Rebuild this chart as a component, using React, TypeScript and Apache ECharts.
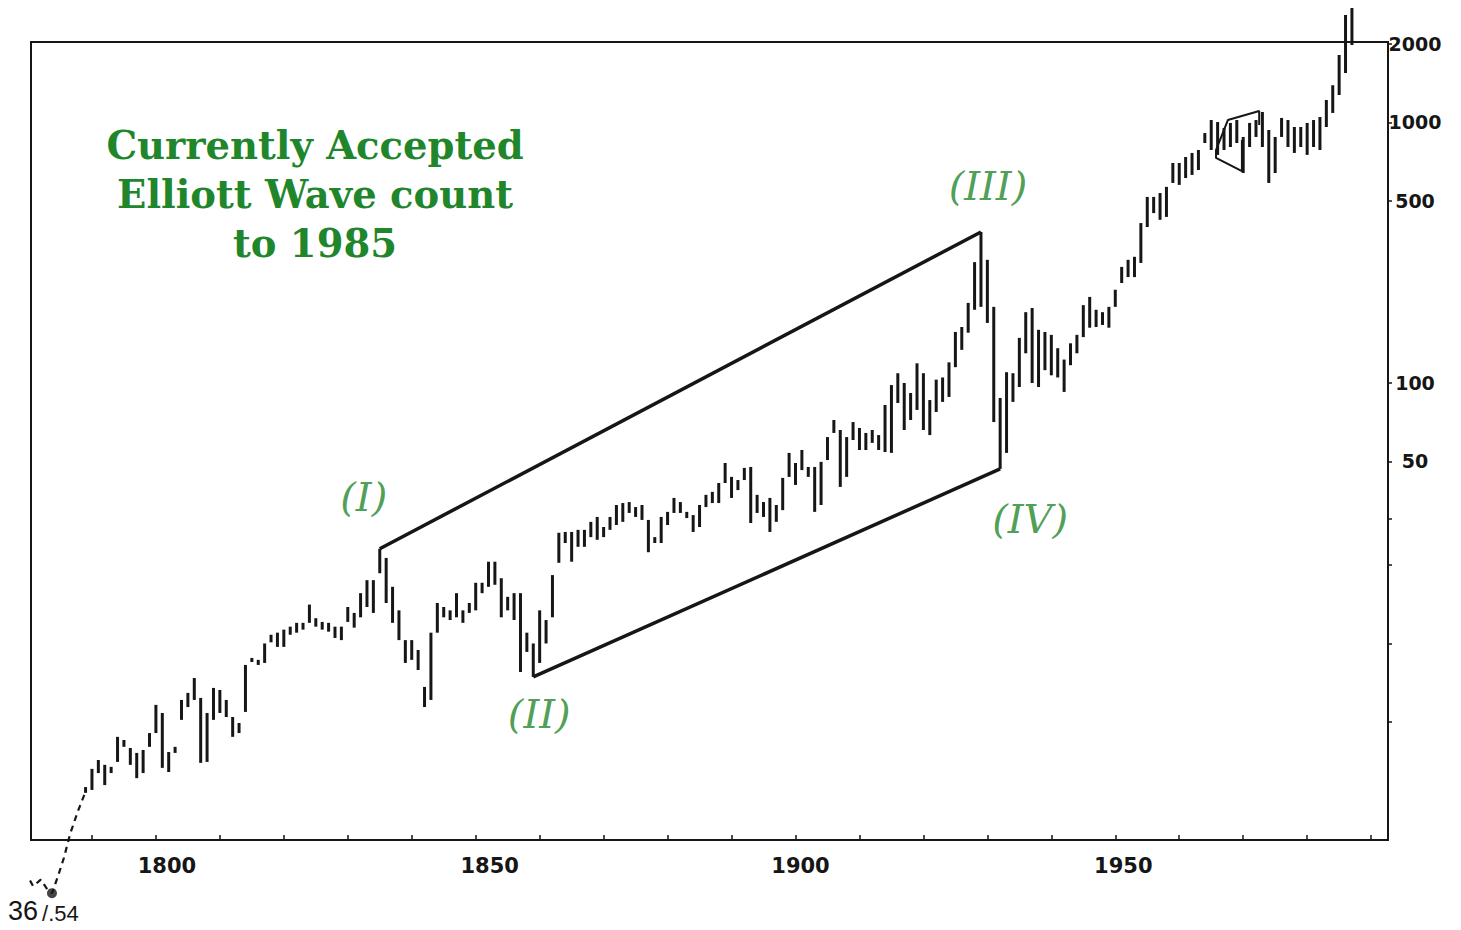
import React, { useEffect, useRef } from "react";
import * as echarts from "echarts";

// ---- data -------------------------------------------------------------
const FIRST_YEAR = 1789;
// yearly highs, 1789 .. 1987
const HIGHS = [
  2.81,
  3.3, 3.57, 3.42, 3.36, 4.38, 4.26, 3.97, 3.8, 3.9, 4.53,
  5.81, 5.41, 3.83, 4.01, 6.07, 6.46, 7.37, 6.18, 5.41, 6.75,
  6.63, 6.07, 5.22, 4.95, 8.27, 8.8, 8.65, 10.0, 10.8, 11.0,
  11.3, 11.6, 12.0, 12.0, 14.1, 12.5, 12.1, 12.0, 11.6, 11.6,
  13.8, 13.1, 15.6, 17.5, 17.5, 23.1, 21.3, 16.5, 13.4, 10.3,
  10.3, 9.44, 6.81, 11.0, 14.3, 13.8, 13.4, 15.6, 13.4, 14.3,
  17.1, 17.1, 20.6, 20.6, 17.8, 15.1, 15.6, 15.6, 11.0, 10.0,
  13.4, 12.3, 18.3, 26.6, 26.8, 26.8, 27.3, 27.3, 29.3, 30.6,
  28.0, 30.6, 34.0, 34.6, 34.9, 33.4, 34.0, 29.8, 25.6, 30.6,
  32.0, 36.2, 34.9, 32.0, 31.1, 34.0, 37.2, 38.2, 41.3, 49.3,
  43.6, 42.4, 47.2, 47.6, 37.2, 34.9, 36.2, 34.0, 43.2, 53.9,
  49.3, 55.3, 47.6, 47.6, 49.8, 62.0, 72.1, 66.0, 62.0, 70.8,
  67.2, 64.3, 66.0, 63.1, 82.3, 98.2, 109, 100, 91.5, 119,
  109, 86.0, 103, 105, 120, 157, 164, 203, 291, 380,
  297, 196, 87.6, 110, 109, 149, 187, 194, 160, 157,
  153, 136, 123, 142, 153, 199, 214, 191, 187, 196,
  228, 279, 297, 305, 411, 518, 518, 536, 566, 699,
  699, 737, 764, 784, 911, 1022, 1004, 953, 996, 1022,
  880, 996, 1022, 1097, 936, 880, 1041, 1022, 961, 961,
  996, 1022, 1050, 1220, 1390, 1816, 2586, 2752,
];
// yearly lows, 1789 .. 1987
const LOWS = [
  2.67,
  2.74, 3.18, 2.86, 3.18, 3.51, 4.01, 3.42, 3.04, 3.18, 4.01,
  4.53, 3.33, 3.21, 3.8, 5.09, 5.7, 6.07, 3.48, 3.51, 5.09,
  5.41, 5.22, 4.38, 4.53, 5.46, 8.49, 8.27, 8.42, 10.1, 9.7,
  9.7, 10.8, 11.0, 11.3, 12.0, 11.6, 11.3, 11.1, 10.5, 10.3,
  12.1, 11.5, 12.6, 13.8, 13.1, 18.6, 14.3, 12.0, 10.3, 8.42,
  8.65, 7.91, 5.7, 6.07, 11.0, 12.6, 12.3, 12.6, 12.0, 13.1,
  13.4, 15.6, 16.5, 16.8, 12.6, 13.4, 12.3, 7.77, 9.28, 7.44,
  8.42, 10.0, 12.6, 20.4, 24.3, 20.6, 23.5, 23.5, 25.6, 25.0,
  25.6, 27.3, 28.5, 29.3, 31.7, 30.6, 29.8, 22.4, 24.3, 24.3,
  28.5, 31.7, 31.7, 30.3, 26.8, 28.0, 33.4, 34.6, 34.6, 41.3,
  36.2, 38.8, 42.4, 29.0, 31.7, 30.6, 26.8, 29.3, 32.5, 43.6,
  40.6, 46.3, 43.6, 32.0, 34.0, 50.6, 64.3, 39.9, 43.6, 60.4,
  55.3, 55.3, 58.9, 55.3, 54.3, 53.9, 83.8, 66.0, 72.1, 78.8,
  66.0, 63.1, 77.4, 84.6, 88.4, 115, 134, 156, 191, 196,
  170, 70.8, 46.8, 53.9, 84.6, 96.5, 130, 100, 96.5, 112,
  107, 105, 92.4, 117, 130, 150, 163, 164, 167, 163,
  196, 242, 255, 255, 289, 397, 449, 423, 434, 586,
  576, 612, 629, 657, 834, 784, 751, 784, 805, 834,
  640, 805, 880, 805, 586, 640, 880, 805, 764, 805,
  751, 805, 784, 961, 1088, 1275, 1549, 1984,
];

const X_LABEL_YEARS = [1800, 1850, 1900, 1950];
const X_TICK_YEARS = [1790, 1800, 1810, 1820, 1830, 1840, 1850, 1860, 1870, 1880, 1890, 1900, 1910, 1920, 1930, 1940, 1950, 1960, 1970, 1980, 1990];
const Y_LABEL_VALUES = [50, 100, 500, 1000, 2000];
const Y_TICK_VALUES = [5, 10, 20, 30, 50, 100, 500, 1000, 2000];

// wave points: label, year, which end of the bar
const WAVE_LABELS = ["(I)", "(II)", "(III)", "(IV)"];
const WAVE_YEARS = [1835, 1859, 1929, 1932];
const WAVE_ENDS = ["high", "low", "high", "low"];

// dashed lead-in from the 1784 start (year, value)
const LEAD_IN_YEARS = [1779.5, 1780.8, 1782.0, 1783.1, 1783.75, 1784.7, 1785.6, 1786.6, 1787.8, 1789.0];
const LEAD_IN_VALUES = [1.34, 1.17, 1.24, 1.13, 1.10, 1.28, 1.5, 1.86, 2.27, 2.7];
const START_YEAR = 1783.75;
const START_VALUE = 1.1;

// small wedge drawn on the 1965-1972 top
const WEDGE_YEARS = [1972.5, 1972.5, 1967.6, 1965.75, 1965.75, 1969.8, 1969.8];
const WEDGE_VALUES = [978, 1107, 1022, 784, 731, 651, 857];

// ---- layout / helpers ----------------------------------------------------
const L = (v: number) => Math.log10(v);
const X_MIN = 1780.47;
const X_MAX = 1992.64;
const Y_MIN = 0.2455; // log10(1.76)
const Y_MAX = 3.309; // log10(2037)
const GREEN = "#1f862b";
const INK = "#161616";

const LABEL_SHIFT: Record<number, number> = { 1800: 22, 1850: 28, 1900: 10, 1950: 16 };

function buildOption(): any {
  const bars = HIGHS.map((h, i) => [FIRST_YEAR + i, L(h), L(LOWS[i])]);
  const valAt = (year: number, end: string) => {
    const i = year - FIRST_YEAR;
    return end === "high" ? HIGHS[i] : LOWS[i];
  };
  const wavePts = WAVE_YEARS.map((y, i) => [y, L(valAt(y, WAVE_ENDS[i]))]);
  const labelOffsets = [
    [-16, -52],
    [6, 37],
    [7, -46],
    [30, 50],
  ];

  const rich: any = {};
  X_LABEL_YEARS.forEach((y) => {
    rich["y" + y] = {
      fontFamily: "DejaVu Sans",
      fontWeight: "bold",
      fontSize: 21,
      color: INK,
      padding: [0, 0, 0, LABEL_SHIFT[y] || 0],
    };
  });

  return {
    animation: false,
    backgroundColor: "#ffffff",
    grid: {
      left: 31,
      right: 73,
      top: 42,
      bottom: 90,
      show: true,
      borderColor: INK,
      borderWidth: 2,
      backgroundColor: "transparent",
    },
    xAxis: {
      type: "value",
      min: X_MIN,
      max: X_MAX,
      axisLine: { show: false },
      splitLine: { show: false },
      axisTick: {
        show: true,
        inside: true,
        length: 5,
        customValues: X_TICK_YEARS,
        lineStyle: { color: INK, width: 1.5 },
      },
      axisLabel: {
        show: true,
        customValues: X_LABEL_YEARS,
        margin: 15,
        formatter: (v: number) => `{y${Math.round(v)}|${Math.round(v)}}`,
        rich,
      },
    },
    yAxis: {
      type: "value",
      position: "right",
      min: Y_MIN,
      max: Y_MAX,
      axisLine: { show: false },
      splitLine: { show: false },
      axisTick: {
        show: true,
        length: 4,
        customValues: Y_TICK_VALUES.map(L),
        lineStyle: { color: INK, width: 1.5 },
      },
      axisLabel: {
        show: true,
        customValues: Y_LABEL_VALUES.map(L),
        align: "center",
        margin: 27,
        fontFamily: "DejaVu Sans",
        fontWeight: "bold",
        fontSize: 19,
        color: INK,
        formatter: (v: number) => String(Math.round(Math.pow(10, v))),
      },
    },
    graphic: [
      {
        type: "text",
        x: 315,
        y: 121,
        style: {
          text: "Currently Accepted\nElliott Wave count\nto 1985",
          textAlign: "center",
          textVerticalAlign: "top",
          fontFamily: "DejaVu Serif",
          fontWeight: "bold",
          fontSize: 38.5,
          lineHeight: 49,
          fill: GREEN,
        },
      },
      {
        type: "text",
        x: 8,
        y: 897,
        style: {
          text: "{a|36}{b|/.54}",
          rich: {
            a: { fontFamily: "Liberation Sans", fontSize: 27, fill: INK, color: INK },
            b: { fontFamily: "Liberation Sans", fontSize: 22, fill: INK, color: INK, padding: [5, 0, 0, 4] },
          },
        },
      },
    ],
    series: [
      {
        type: "custom",
        clip: false,
        z: 2,
        data: bars,
        encode: { x: 0, y: [1, 2] },
        renderItem: (params: any, api: any) => {
          const x = api.value(0);
          const p1 = api.coord([x, api.value(1)]);
          const p2 = api.coord([x, api.value(2)]);
          const h = Math.max(p2[1] - p1[1], 3);
          return {
            type: "rect",
            shape: { x: p1[0] - 1.5, y: p1[1], width: 3, height: h },
            style: { fill: INK },
          };
        },
      },
      {
        type: "line",
        z: 3,
        clip: false,
        symbol: "none",
        data: [wavePts[0], wavePts[2]],
        lineStyle: { color: INK, width: 3.5 },
      },
      {
        type: "line",
        z: 3,
        clip: false,
        symbol: "none",
        data: [wavePts[1], wavePts[3]],
        lineStyle: { color: INK, width: 3.5 },
      },
      {
        type: "line",
        z: 3,
        clip: false,
        symbol: "none",
        data: WEDGE_YEARS.map((y, i) => [y, L(WEDGE_VALUES[i])]),
        lineStyle: { color: INK, width: 2 },
      },
      {
        type: "line",
        z: 3,
        clip: false,
        symbol: "none",
        data: LEAD_IN_YEARS.map((y, i) => [y, L(LEAD_IN_VALUES[i])]),
        lineStyle: { color: INK, width: 2.2, type: [6, 5] },
      },
      {
        type: "scatter",
        z: 4,
        clip: false,
        symbolSize: 10,
        itemStyle: { color: INK },
        data: [[START_YEAR, L(START_VALUE)]],
      },
      {
        type: "scatter",
        z: 5,
        clip: false,
        symbolSize: 0,
        data: wavePts.map((p, i) => ({
          value: p,
          label: {
            show: true,
            position: "inside",
            offset: labelOffsets[i],
            formatter: WAVE_LABELS[i],
            fontFamily: "DejaVu Serif",
            fontStyle: "italic",
            fontSize: 40,
            color: GREEN,
          },
        })),
      },
    ],
  };
}

export default function App() {
  const ref = useRef<HTMLDivElement>(null);
  useEffect(() => {
    if (!ref.current) return;
    const chart = echarts.init(ref.current, null, { renderer: "svg" });
    chart.setOption(buildOption());
    return () => chart.dispose();
  }, []);
  return (
    <div
      ref={ref}
      style={{ position: "absolute", left: 0, top: 0, width: 1461, height: 930, background: "#fff" }}
    />
  );
}
